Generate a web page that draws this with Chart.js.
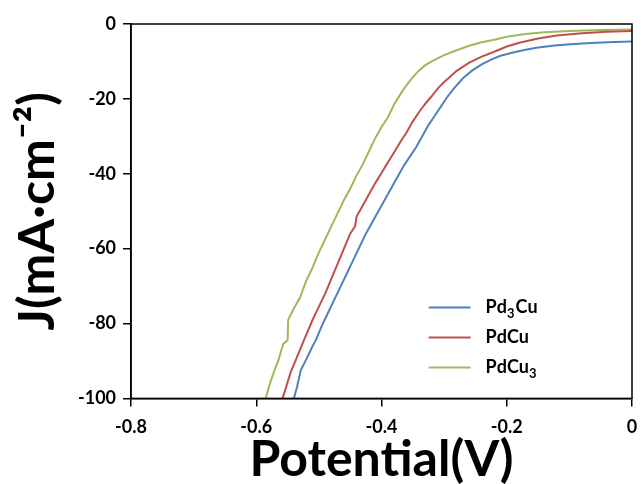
<!DOCTYPE html>
<html>
<head>
<meta charset="utf-8">
<script src="https://cdn.jsdelivr.net/npm/chart.js@4.4.1/dist/chart.umd.min.js"></script>
<style>
  html, body { margin: 0; padding: 0; background: #fff; }
  #wrap { width: 641px; height: 484px; }
</style>
</head>
<body>
<div id="wrap"><canvas id="lsvChart"></canvas></div>
<script>
//SERIES NAMES AND TICKS
const seriesNames = ["Pd\u2083Cu", "PdCu", "PdCu\u2083"];
const xTicks = [-0.8, -0.6, -0.4, -0.2, 0];
const yTicks = [0, -20, -40, -60, -80, -100];

//PD3CU (BLUE)
const pd3cuV = [-0.540, -0.535, -0.529, -0.520, -0.510, -0.505, -0.495, -0.485, -0.475, -0.465,
  -0.455, -0.445, -0.435, -0.425, -0.415, -0.405, -0.395, -0.385, -0.375, -0.365,
  -0.355, -0.345, -0.335, -0.325, -0.315, -0.305, -0.295, -0.285, -0.270, -0.255,
  -0.240, -0.225, -0.210, -0.190, -0.170, -0.150, -0.120, -0.080, -0.040, 0];
const pd3cuJ = [-100, -97, -92.5, -89.5, -86, -84.5, -80.5, -77, -73.5, -70,
  -66.5, -63, -59.5, -56, -53, -50, -47, -44, -41, -38,
  -35.5, -33, -30, -27, -24.5, -22, -19.5, -17.3, -14.5, -12.4,
  -10.8, -9.5, -8.5, -7.6, -6.9, -6.3, -5.7, -5.2, -4.9, -4.7];

//PDCU (RED)
const pdcuV = [-0.558, -0.545, -0.535, -0.524, -0.510, -0.500, -0.490, -0.480, -0.470, -0.460,
  -0.450, -0.442, -0.440, -0.430, -0.420, -0.410, -0.400, -0.390, -0.380, -0.370,
  -0.360, -0.350, -0.340, -0.330, -0.320, -0.310, -0.300, -0.290, -0.280, -0.260,
  -0.240, -0.220, -0.200, -0.180, -0.150, -0.120, -0.080, -0.040, 0];
const pdcuJ = [-100, -93, -89, -84.5, -79, -75.5, -72, -68, -64, -60,
  -56, -54, -51.5, -48.5, -45.5, -42.5, -39.8, -37, -34.3, -31.5,
  -29, -26, -23.5, -21.3, -19.3, -17.2, -15.5, -14, -12.5, -10.3,
  -8.7, -7.4, -6, -5, -3.9, -3.1, -2.5, -2.1, -1.9];

//PDCU3 (GREEN)
const pdcu3V = [-0.585, -0.580, -0.572, -0.565, -0.557, -0.550, -0.549, -0.540, -0.530, -0.520,
  -0.510, -0.500, -0.490, -0.480, -0.470, -0.460, -0.450, -0.440, -0.430, -0.420,
  -0.410, -0.400, -0.390, -0.380, -0.370, -0.360, -0.350, -0.340, -0.330, -0.320,
  -0.300, -0.280, -0.260, -0.240, -0.220, -0.200, -0.170, -0.140, -0.100, -0.050, 0];
const pdcu3J = [-100, -97, -93, -90, -85.5, -84.5, -79, -76, -73, -68.5,
  -65, -61, -57.5, -54, -50.5, -47, -44, -40.5, -37.5, -34,
  -30.5, -27.5, -25, -21.5, -18.8, -16.3, -14.2, -12.4, -11, -10,
  -8.3, -7, -5.8, -4.9, -4.2, -3.4, -2.7, -2.2, -1.9, -1.6, -1.5];

const colors = ["#4f81bd", "#c0504d", "#9bbb59"];
const subDigits = "\u2080\u2081\u2082\u2083\u2084\u2085\u2086\u2087\u2088\u2089";

function toPoints(xs, ys) {
  return xs.map((x, i) => ({ x: x, y: ys[i] }));
}

//DRAW A LABEL, TURNING UNICODE SUBSCRIPT DIGITS INTO SMALL LOWERED DIGITS
function drawLabel(ctx, text, x, y) {
  for (const ch of text) {
    const k = subDigits.indexOf(ch);
    if (k >= 0) {
      ctx.font = "bold 13px Lato";
      ctx.fillText(String(k), x, y + 6);
      x += ctx.measureText(String(k)).width + 1;
    } else {
      ctx.font = "bold 18px Lato";
      ctx.fillText(ch, x, y);
      x += ctx.measureText(ch).width;
    }
  }
}

//FRAME AROUND THE PLOT AND LEGEND INSIDE IT
const framePlugin = {
  id: "frame",
  afterDraw(chart) {
    const ctx = chart.ctx;
    const a = chart.chartArea;
    ctx.save();
    ctx.strokeStyle = "#000";
    ctx.lineWidth = 1.5;
    ctx.strokeRect(a.left, a.top, a.right - a.left, a.bottom - a.top);

    const lx = a.left + 0.594 * (a.right - a.left);
    const ly = a.top + 0.757 * (a.bottom - a.top);
    ctx.textBaseline = "middle";
    ctx.fillStyle = "#000";
    chart.data.datasets.forEach((ds, i) => {
      const y = ly + i * 30;
      ctx.strokeStyle = ds.borderColor;
      ctx.lineWidth = 2;
      ctx.beginPath();
      ctx.moveTo(lx, y);
      ctx.lineTo(lx + 42, y);
      ctx.stroke();
      drawLabel(ctx, ds.label, lx + 57, y);
    });
    ctx.restore();
  },
};

const config = {
  type: "line",
  data: {
    datasets: [
      { label: seriesNames[0], data: toPoints(pd3cuV, pd3cuJ), borderColor: colors[0] },
      { label: seriesNames[1], data: toPoints(pdcuV, pdcuJ), borderColor: colors[1] },
      { label: seriesNames[2], data: toPoints(pdcu3V, pdcu3J), borderColor: colors[2] },
    ].map((d) => Object.assign(d, { borderWidth: 2, pointRadius: 0, tension: 0, fill: false })),
  },
  options: {
    responsive: true,
    maintainAspectRatio: false,
    animation: false,
    layout: { padding: { left: 8, right: 0, top: 24, bottom: -4 } },
    plugins: { legend: { display: false }, tooltip: { enabled: false } },
    scales: {
      x: {
        type: "linear",
        min: xTicks[0],
        max: xTicks[xTicks.length - 1],
        afterBuildTicks: (axis) => { axis.ticks = xTicks.map((v) => ({ value: v })); },
        //ONLY HALF OF THE "0" LABEL HANGS PAST THE PLOT
        afterFit: (axis) => { axis.paddingRight = 9; axis.paddingLeft = 0; },
        ticks: {
          color: "#000",
          font: { family: "Lato", weight: "bold", size: 18 },
          padding: 10,
          maxRotation: 0,
          callback: (v) => (v === 0 ? "0" : v.toFixed(1)),
        },
        grid: { drawOnChartArea: false, tickLength: 8, color: "#000", lineWidth: 1.5 },
        border: { display: true, color: "#000", width: 1.5 },
        title: {
          display: true,
          text: "Potential(V)",
          color: "#000",
          font: { family: "Lato", weight: "bold", size: 50, lineHeight: 0.46 },
          padding: { top: 0, bottom: 17 },
        },
      },
      y: {
        type: "linear",
        min: -100,
        max: 0,
        afterBuildTicks: (axis) => { axis.ticks = yTicks.map((v) => ({ value: v })); },
        ticks: {
          color: "#000",
          font: { family: "Lato", weight: "bold", size: 18 },
          padding: 7,
        },
        grid: { drawOnChartArea: false, tickLength: 8, color: "#000", lineWidth: 1.5 },
        border: { display: true, color: "#000", width: 1.5 },
        title: {
          display: true,
          text: "J(mA\u00b7cm\u207b\u00b2)",
          color: "#000",
          font: { family: "Lato", weight: "bold", size: 50 },
          padding: { top: 0, bottom: 3 },
        },
      },
    },
  },
  plugins: [framePlugin],
};

const chart = new Chart(document.getElementById("lsvChart"), config);
</script>
</body>
</html>
